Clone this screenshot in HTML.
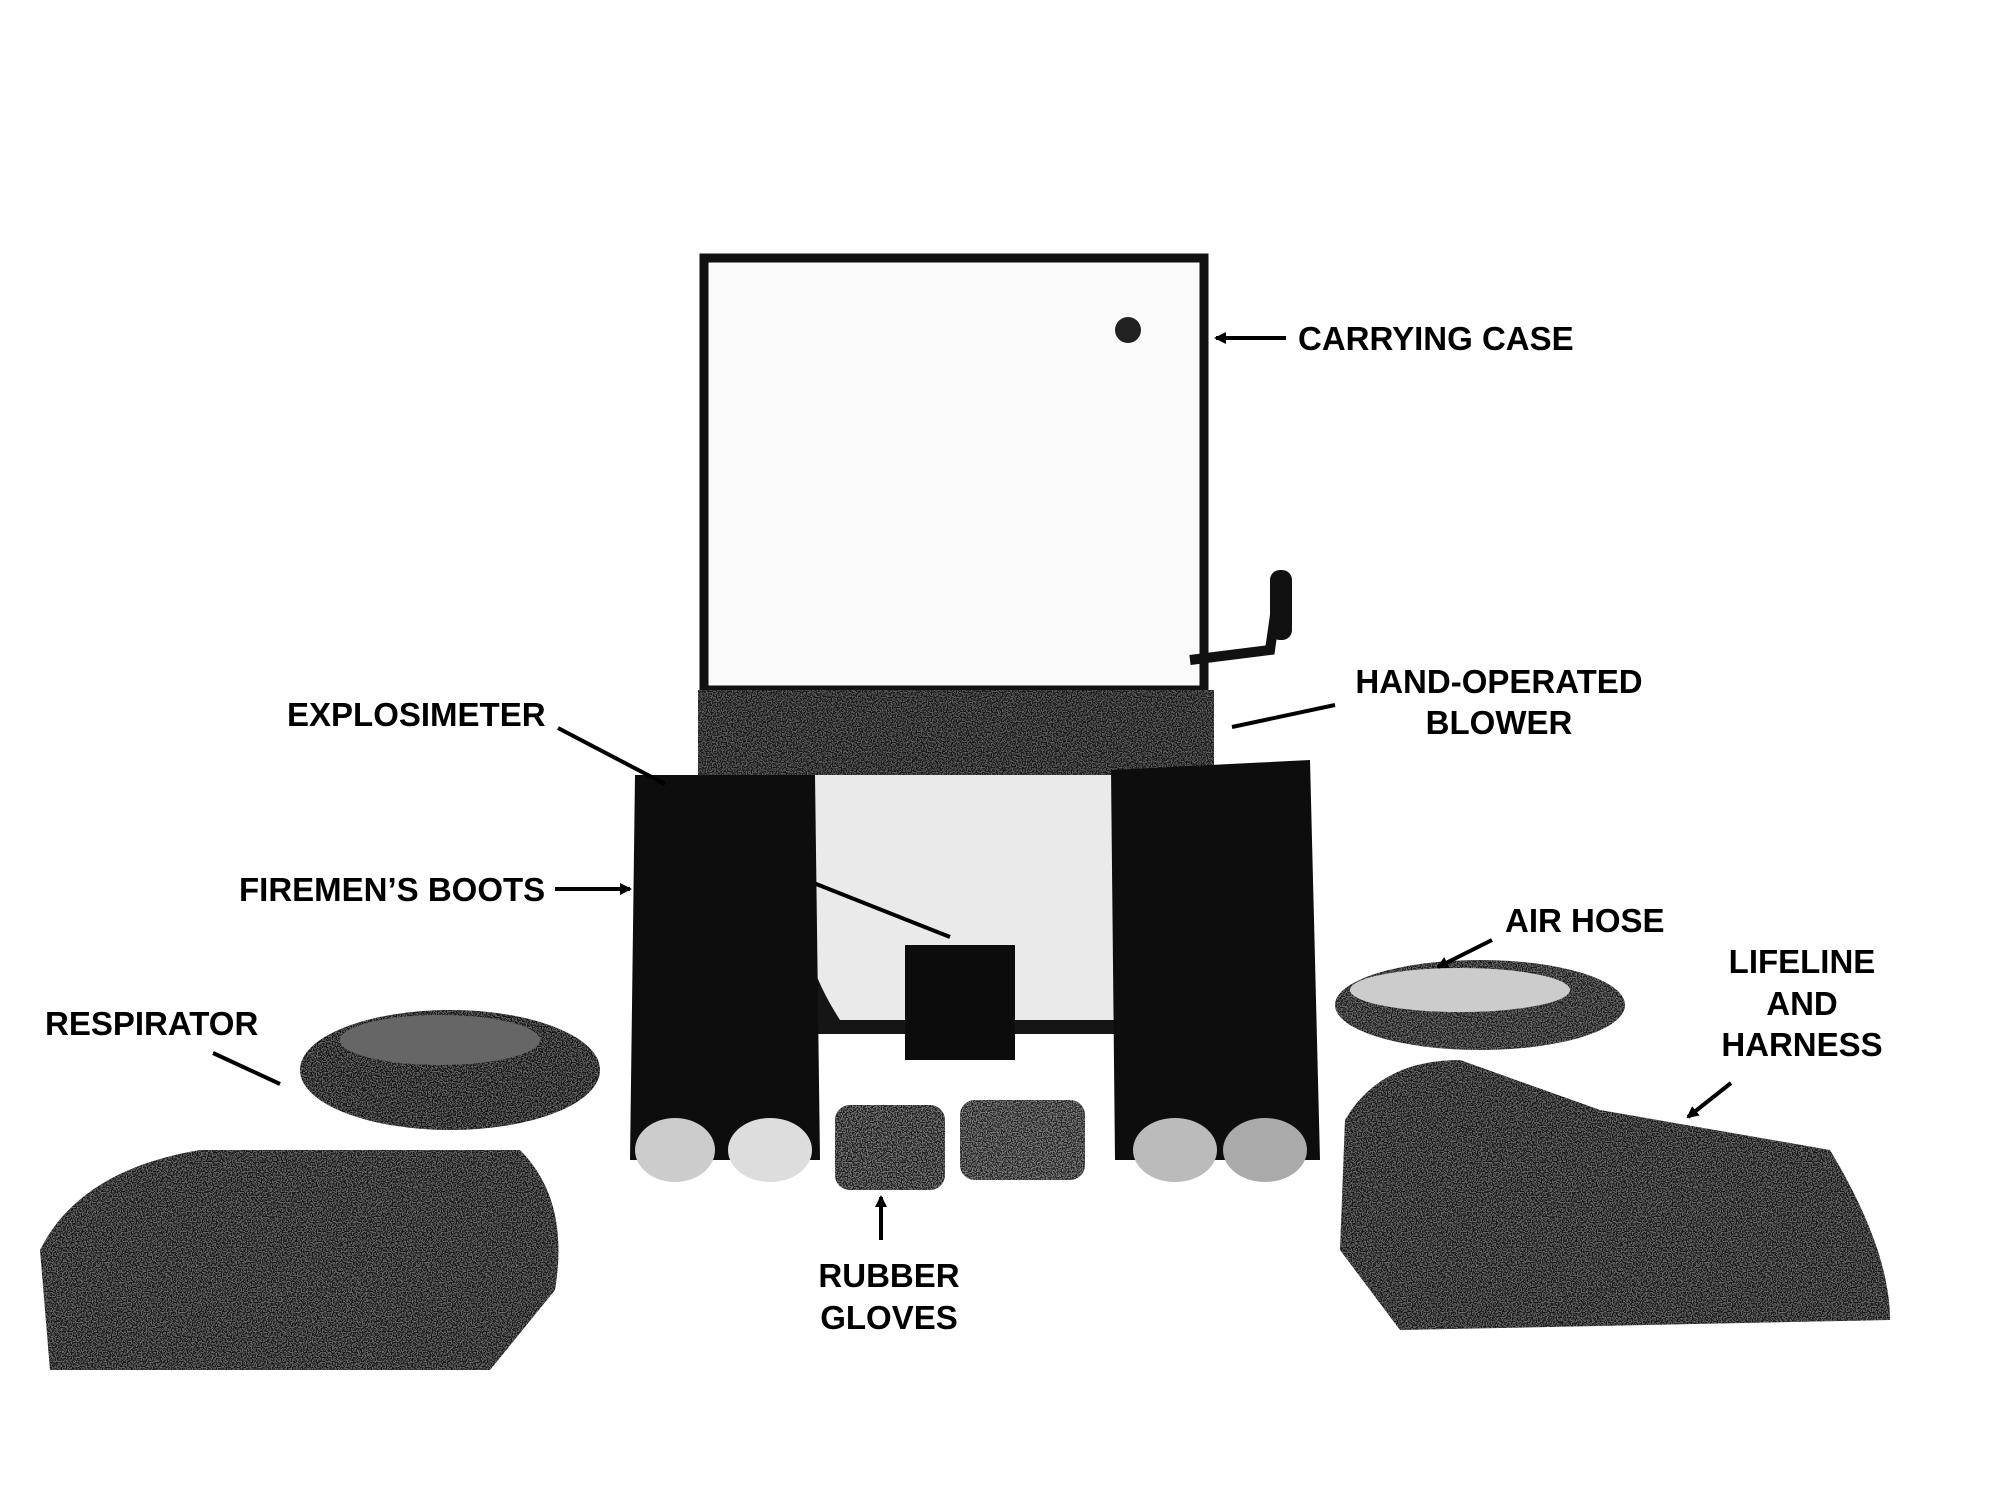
<!DOCTYPE html>
<html><head><meta charset="utf-8"><style>
html,body{margin:0;padding:0;background:#fff;}
svg{display:block}
text{font-family:"Liberation Sans",sans-serif;font-weight:bold;font-size:33px;fill:#000}
</style></head><body>
<svg width="2001" height="1489" viewBox="0 0 2001 1489" xmlns="http://www.w3.org/2000/svg">
<defs>
<marker id="ah" markerWidth="12" markerHeight="12" refX="10" refY="6" orient="auto" markerUnits="userSpaceOnUse"><path d="M0,0 L12,6 L0,12 z" fill="#000"/></marker>
<filter id="spk" x="0" y="0" width="1" height="1"><feTurbulence type="fractalNoise" baseFrequency="0.8" numOctaves="1" seed="3"/><feColorMatrix type="matrix" values="0 0 0 0 1  0 0 0 0 1  0 0 0 0 1  0 0 0 -12 6.5"/></filter>
<clipPath id="cl"><path d="M40,1250 Q80,1170 200,1150 L520,1150 Q570,1200 555,1290 L490,1370 L50,1370 z"/><ellipse cx="450" cy="1070" rx="150" ry="60"/></clipPath>
<clipPath id="cr"><path d="M1345,1120 Q1380,1060 1460,1060 L1600,1110 L1830,1150 Q1890,1250 1890,1320 L1400,1330 L1340,1250 z"/><ellipse cx="1480" cy="1005" rx="145" ry="45"/></clipPath>
<clipPath id="cg"><rect x="835" y="1105" width="110" height="85" rx="15"/><rect x="960" y="1100" width="125" height="80" rx="15"/></clipPath>
<clipPath id="cb"><rect x="698" y="690" width="516" height="85"/></clipPath>
</defs>
<rect x="704" y="258" width="500" height="432" fill="#fafafa" stroke="#111" stroke-width="9"/>
<circle cx="1128" cy="330" r="13" fill="#222"/>
<path d="M1190,660 L1270,650 L1280,580" stroke="#111" stroke-width="10" fill="none"/>
<rect x="1270" y="570" width="22" height="70" rx="10" fill="#111"/>
<rect x="698" y="690" width="516" height="344" fill="#151515"/>
<g clip-path="url(#cb)"><rect x="698" y="690" width="516" height="85" filter="url(#spk)" opacity="0.3"/></g>
<path d="M801,775 L1137,775 L1137,1020 L840,1020 Q801,960 801,900 z" fill="#eaeaea"/>
<rect x="905" y="945" width="110" height="115" fill="#0c0c0c"/>
<line x1="801" y1="878" x2="950" y2="937" stroke="#000" stroke-width="4"/>
<path d="M635,775 L815,775 L820,1160 L630,1160 z" fill="#0d0d0d"/>
<ellipse cx="675" cy="1150" rx="40" ry="32" fill="#ccc"/>
<ellipse cx="770" cy="1150" rx="42" ry="32" fill="#ddd"/>
<path d="M1111,770 L1310,760 L1320,1160 L1115,1160 z" fill="#0d0d0d"/>
<ellipse cx="1175" cy="1150" rx="42" ry="32" fill="#bbb"/>
<ellipse cx="1265" cy="1150" rx="42" ry="32" fill="#aaa"/>
<rect x="835" y="1105" width="110" height="85" rx="15" fill="#1a1a1a"/>
<rect x="960" y="1100" width="125" height="80" rx="15" fill="#222"/>
<g clip-path="url(#cg)"><rect x="835" y="1100" width="250" height="90" filter="url(#spk)" opacity="0.4"/></g>
<ellipse cx="450" cy="1070" rx="150" ry="60" fill="#111"/>
<path d="M40,1250 Q80,1170 200,1150 L520,1150 Q570,1200 555,1290 L490,1370 L50,1370 z" fill="#151515"/>
<g clip-path="url(#cl)"><rect x="30" y="1000" width="580" height="380" filter="url(#spk)" opacity="0.35"/></g>
<ellipse cx="440" cy="1040" rx="100" ry="25" fill="#666"/>
<ellipse cx="1480" cy="1005" rx="145" ry="45" fill="#1a1a1a"/>
<path d="M1345,1120 Q1380,1060 1460,1060 L1600,1110 L1830,1150 Q1890,1250 1890,1320 L1400,1330 L1340,1250 z" fill="#151515"/>
<g clip-path="url(#cr)"><rect x="1330" y="955" width="570" height="380" filter="url(#spk)" opacity="0.35"/></g>
<ellipse cx="1460" cy="990" rx="110" ry="22" fill="#ccc"/>
<text x="1298" y="350">CARRYING CASE</text>
<line x1="1286" y1="338" x2="1216" y2="338" stroke="#000" stroke-width="4" marker-end="url(#ah)"/>
<text x="287" y="726">EXPLOSIMETER</text>
<line x1="558" y1="728" x2="665" y2="784" stroke="#000" stroke-width="4"/>
<text x="1499" y="693" text-anchor="middle">HAND-OPERATED</text>
<text x="1499" y="734" text-anchor="middle">BLOWER</text>
<line x1="1335" y1="705" x2="1232" y2="727" stroke="#000" stroke-width="4"/>
<text x="239" y="901">FIREMEN’S BOOTS</text>
<line x1="555" y1="889" x2="630" y2="889" stroke="#000" stroke-width="4" marker-end="url(#ah)"/>
<text x="1505" y="932">AIR HOSE</text>
<line x1="1492" y1="940" x2="1438" y2="967" stroke="#000" stroke-width="4" marker-end="url(#ah)"/>
<text x="1802" y="973" text-anchor="middle">LIFELINE</text>
<text x="1802" y="1015" text-anchor="middle">AND</text>
<text x="1802" y="1056" text-anchor="middle">HARNESS</text>
<line x1="1731" y1="1083" x2="1688" y2="1117" stroke="#000" stroke-width="4" marker-end="url(#ah)"/>
<text x="45" y="1035">RESPIRATOR</text>
<line x1="213" y1="1053" x2="280" y2="1084" stroke="#000" stroke-width="4"/>
<text x="889" y="1287" text-anchor="middle">RUBBER</text>
<text x="889" y="1329" text-anchor="middle">GLOVES</text>
<line x1="881" y1="1240" x2="881" y2="1197" stroke="#000" stroke-width="4" marker-end="url(#ah)"/>
</svg>
</body></html>
